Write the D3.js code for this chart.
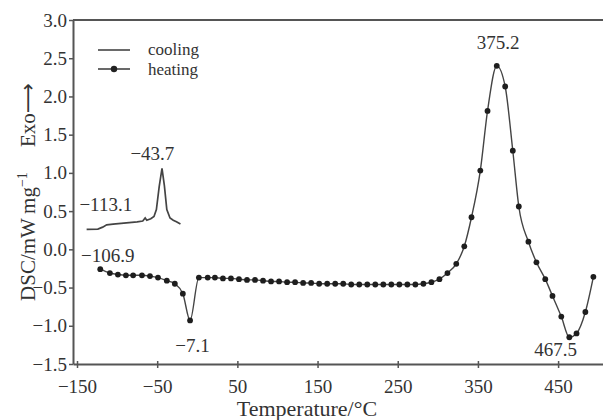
<!DOCTYPE html>
<html>
<head>
<meta charset="utf-8">
<script src="https://cdn.jsdelivr.net/npm/d3@7"></script>
<style>
  body { margin: 0; background: #fff; }
  svg { font-family: "Liberation Serif", "DejaVu Serif", serif; }
</style>
</head>
<body>
<div id="chart"></div>
<script>
// heating curve (dots), temperature in °C and DSC in mW/mg
var heatT = [-121, -109, -99, -89, -80, -69, -59, -49, -38, -28, -18, -9, 2, 13, 22,
  32, 42, 52, 62, 72, 82, 92, 102, 112, 122, 132, 142, 152, 162, 172, 182, 192, 202,
  212, 222, 232, 242, 252, 262, 272, 282, 292, 302, 312, 323, 333, 342, 353, 362,
  373.5, 384, 393.5, 401, 413, 423, 434, 443, 454, 464, 473, 484, 494];
var heatV = [-0.26, -0.31, -0.33, -0.34, -0.34, -0.34, -0.35, -0.37, -0.41, -0.45, -0.58, -0.93, -0.37, -0.37, -0.37,
  -0.38, -0.38, -0.39, -0.40, -0.40, -0.41, -0.42, -0.42, -0.43, -0.43, -0.44, -0.44, -0.45, -0.45, -0.45, -0.45, -0.46, -0.46,
  -0.46, -0.46, -0.46, -0.46, -0.46, -0.46, -0.46, -0.45, -0.43, -0.39, -0.31, -0.19, 0.04, 0.42, 1.03, 1.81,
  2.40, 2.13, 1.29, 0.56, 0.10, -0.17, -0.39, -0.61, -0.88, -1.15, -1.10, -0.82, -0.36];

// cooling curve (line only)
var coolT = [-138, -124, -118, -113, -105, -95, -85, -75, -68, -65, -63, -58, -54, -51, -47.5, -44, -41, -38, -34, -30, -26, -21];
var coolV = [0.26, 0.265, 0.29, 0.32, 0.33, 0.34, 0.35, 0.36, 0.37, 0.41, 0.38, 0.40, 0.43, 0.52, 0.82, 1.06, 0.83, 0.52, 0.41, 0.38, 0.36, 0.33];

var xTicks = [-150, -50, 50, 150, 250, 350, 450];
var yTicks = [-1.5, -1.0, -0.5, 0.0, 0.5, 1.0, 1.5, 2.0, 2.5, 3.0];

// peak annotations
var peakT = [-113.1, -43.7, -106.9, -7.1, 375.2, 467.5];
var peakLabels = ["\u2212113.1", "\u221243.7", "\u2212106.9", "\u22127.1", "375.2", "467.5"];
// where each label sits (x in °C, y in DSC units)
var labelX = [-147, -56, -145, -6, 375.2, 447];
var labelY = [0.5, 1.17, -0.17, -1.34, 2.62, -1.4];
var labelAnchor = ["start", "middle", "start", "middle", "middle", "middle"];

var margin = {top: 20, right: 0, bottom: 56, left: 73},
    width = 603 - margin.left - margin.right,
    height = 420 - margin.top - margin.bottom;

var svg = d3.select("#chart")
  .append("svg")
    .attr("width", 603)
    .attr("height", 420)
  .append("g")
    .attr("transform", "translate(" + margin.left + "," + margin.top + ")");

var x = d3.scaleLinear().domain([-155, 506]).range([0, width]);
var y = d3.scaleLinear().domain([-1.5, 3.0]).range([height, 0]);

var axisColor = "#555";

// top frame line
svg.append("line")
  .attr("x1", 0).attr("x2", width).attr("y1", 0).attr("y2", 0)
  .style("stroke", axisColor).style("stroke-width", 2);

var xAxis = svg.append("g")
  .attr("transform", "translate(0," + height + ")")
  .call(d3.axisBottom(x).tickValues(xTicks).tickSize(4).tickPadding(12).tickSizeOuter(0)
    .tickFormat(function(d) { return d < 0 ? "\u2212" + Math.abs(d) : d; }));

var yAxis = svg.append("g")
  .call(d3.axisLeft(y).tickValues(yTicks).tickSize(4).tickPadding(2).tickSizeOuter(0)
    .tickFormat(d3.format(".1f")));

[xAxis, yAxis].forEach(function(a) {
  a.select(".domain").style("stroke", axisColor).style("stroke-width", 2);
  a.selectAll(".tick line").style("stroke", axisColor).style("stroke-width", 1.5);
  a.selectAll(".tick text").style("font-size", "19px").style("fill", "#333")
    .style("font-family", "Liberation Serif");
});
// x ticks cross the axis a little
xAxis.selectAll(".tick line").attr("y1", -3);

// axis titles
svg.append("text")
  .attr("x", 307 - margin.left)
  .attr("y", 416 - margin.top)
  .style("text-anchor", "middle")
  .style("font-size", "22px")
  .style("fill", "#333")
  .text("Temperature/\u00b0C");

var ylab = svg.append("text")
  .attr("transform", "translate(" + (35 - margin.left) + "," + (192 - margin.top) + ") rotate(-90)")
  .style("text-anchor", "middle")
  .style("font-size", "21px")
  .style("fill", "#333");
ylab.append("tspan").text("DSC/mW\u2009mg");
ylab.append("tspan").attr("dy", -8).style("font-size", "14px").text("\u22121");
ylab.append("tspan").attr("dy", 8).text("\u2003\u2009Exo");
ylab.append("tspan").style("font-family", "DejaVu Sans").style("font-size", "21px").text("\u27f6");

var lineColor = "#444";

// cooling line
var cool = coolT.map(function(t, i) { return [t, coolV[i]]; });
svg.append("path")
  .datum(cool)
  .attr("fill", "none")
  .attr("stroke", lineColor)
  .attr("stroke-width", 1.7)
  .attr("d", d3.line().x(function(d) { return x(d[0]); }).y(function(d) { return y(d[1]); }));

// heating line + dots
var heat = heatT.map(function(t, i) { return [t, heatV[i]]; });
svg.append("path")
  .datum(heat)
  .attr("fill", "none")
  .attr("stroke", lineColor)
  .attr("stroke-width", 1.4)
  .attr("d", d3.line().curve(d3.curveMonotoneX).x(function(d) { return x(d[0]); }).y(function(d) { return y(d[1]); }));

svg.selectAll("circle.hdot")
  .data(heat)
  .enter()
  .append("circle")
    .attr("class", "hdot")
    .attr("cx", function(d) { return x(d[0]); })
    .attr("cy", function(d) { return y(d[1]); })
    .attr("r", 2.9)
    .style("fill", "#1e1e1e");

svg.selectAll("text.peak")
  .data(peakT)
  .enter()
  .append("text")
    .attr("class", "peak")
    .attr("x", function(d, i) { return x(labelX[i]); })
    .attr("y", function(d, i) { return y(labelY[i]); })
    .style("text-anchor", function(d, i) { return labelAnchor[i]; })
    .style("font-size", "19px")
    .style("fill", "#333")
    .text(function(d, i) { return peakLabels[i]; });

// legend
var lg = svg.append("g").attr("transform", "translate(" + (98 - margin.left) + "," + (50 - margin.top) + ")");
lg.append("line").attr("x1", 0).attr("x2", 32).attr("y1", 0).attr("y2", 0)
  .style("stroke", lineColor).style("stroke-width", 1.6);
lg.append("line").attr("x1", 0).attr("x2", 32).attr("y1", 19).attr("y2", 19)
  .style("stroke", lineColor).style("stroke-width", 1.6);
lg.append("circle").attr("cx", 16).attr("cy", 19).attr("r", 3.2).style("fill", "#222");
lg.append("text").attr("x", 50).attr("y", 5).text("cooling").style("font-size", "17px").style("fill", "#333");
lg.append("text").attr("x", 50).attr("y", 25).text("heating").style("font-size", "17px").style("fill", "#333");
</script>
</body>
</html>
